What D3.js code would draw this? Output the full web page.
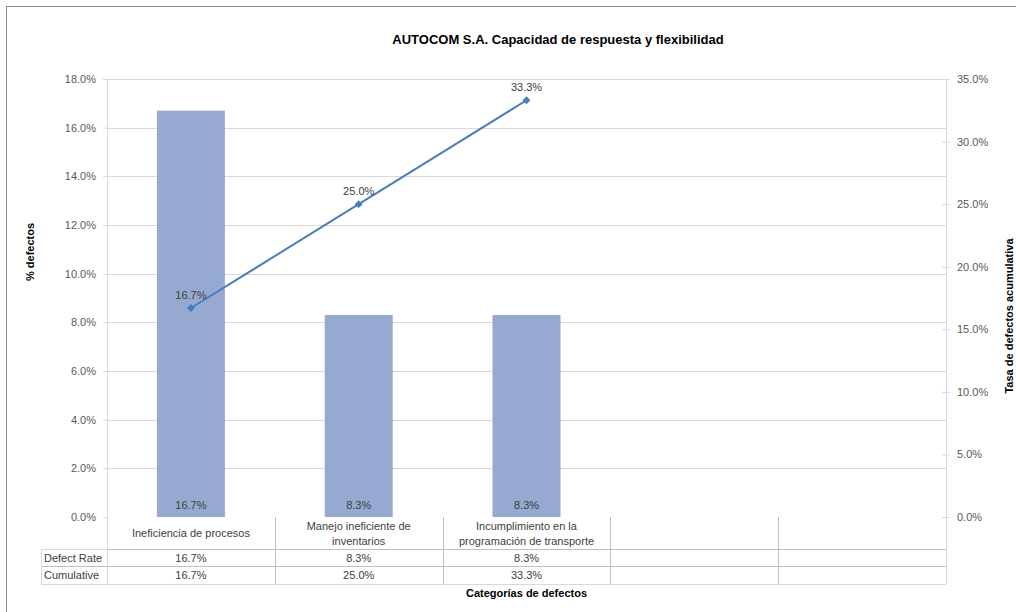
<!DOCTYPE html>
<html>
<head>
<meta charset="utf-8">
<script src="https://cdn.jsdelivr.net/npm/d3@7"></script>
<style>
  body { margin: 0; background: #fff; }
  text { font-family: "Liberation Sans", Arial, sans-serif; }
</style>
</head>
<body>
<div id="container"></div>
<script>
const categories = ["Ineficiencia de procesos", "Manejo ineficiente de inventarios", "Incumplimiento en la programación de transporte", "", ""]
const categoryLines = [["Ineficiencia de procesos"], ["Manejo ineficiente de", "inventarios"], ["Incumplimiento en la", "programación de transporte"], [], []]
const defectRate = [0.167, 0.083, 0.083]
const cumulative = [0.167, 0.25, 0.333]
const defectLabels = ["16.7%", "8.3%", "8.3%"]
const cumulativeLabels = ["16.7%", "25.0%", "33.3%"]
const leftTicks = [0, 0.02, 0.04, 0.06, 0.08, 0.10, 0.12, 0.14, 0.16, 0.18]
const rightTicks = [0, 0.05, 0.10, 0.15, 0.20, 0.25, 0.30, 0.35]

const W = 1016, H = 612
const margin = { left: 107, right: 70, top: 79, bottom: 95 }
const plotBottom = H - margin.bottom
const plotRight = W - margin.right

const svg = d3.select('#container').append('svg')
    .attr('width', W).attr('height', H)

// outer frame
svg.append('rect')
    .attr('x', 6.5).attr('y', 6.5)
    .attr('width', W + 20).attr('height', H + 20)
    .attr('fill', 'none').attr('stroke', '#8c8c8c')

const x = d3.scaleBand().domain(categories.map((c, i) => i)).range([margin.left, plotRight])
const yL = d3.scaleLinear().domain([0, 0.18]).range([plotBottom, margin.top])
const yR = d3.scaleLinear().domain([0, 0.35]).range([plotBottom, margin.top])
const fmt = d3.format('.1%')

// gridlines
svg.append('g').selectAll('line').data(leftTicks.slice(1)).join('line')
    .attr('x1', margin.left).attr('x2', plotRight)
    .attr('y1', d => Math.round(yL(d)) + 0.5).attr('y2', d => Math.round(yL(d)) + 0.5)
    .attr('stroke', '#d9d9d9')

// left axis
const gl = svg.append('g').attr('transform', `translate(${margin.left},0)`)
    .call(d3.axisLeft(yL).tickValues(leftTicks).tickFormat(fmt).tickSize(4).tickPadding(7))
gl.select('.domain').attr('stroke', '#d9d9d9')
gl.selectAll('.tick line').attr('stroke', '#d9d9d9')
gl.selectAll('.tick text').attr('fill', '#595959').style('font-size', '11px')
    .style('font-family', '"Liberation Sans", Arial, sans-serif')

// right axis
const gr = svg.append('g').attr('transform', `translate(${plotRight},0)`)
    .call(d3.axisRight(yR).tickValues(rightTicks).tickFormat(fmt).tickSize(4).tickPadding(7))
gr.select('.domain').attr('stroke', '#d9d9d9')
gr.selectAll('.tick line').attr('stroke', '#d9d9d9').attr('x1', -4)
gr.selectAll('.tick text').attr('fill', '#595959').style('font-size', '11px')
    .style('font-family', '"Liberation Sans", Arial, sans-serif')

// bars
const barW = 68
svg.append('g').selectAll('rect').data(defectRate).join('rect')
    .attr('x', (d, i) => x(i) + x.bandwidth() / 2 - barW / 2)
    .attr('width', barW)
    .attr('y', d => yL(d))
    .attr('height', d => plotBottom - yL(d))
    .attr('fill', '#95a9d1')

svg.append('g').selectAll('text').data(defectLabels).join('text')
    .attr('x', (d, i) => x(i) + x.bandwidth() / 2)
    .attr('y', plotBottom - 8)
    .attr('text-anchor', 'middle')
    .attr('fill', '#404040').style('font-size', '11px')
    .text(d => d)

// cumulative line
const line = d3.line()
    .x((d, i) => x(i) + x.bandwidth() / 2)
    .y(d => yR(d))
svg.append('path').attr('d', line(cumulative))
    .attr('fill', 'none').attr('stroke', '#4a7ebb').attr('stroke-width', 2)

svg.append('g').selectAll('path').data(cumulative).join('path')
    .attr('d', d3.symbol(d3.symbolDiamond2, 40))
    .attr('transform', (d, i) => `translate(${x(i) + x.bandwidth() / 2},${yR(d)})`)
    .attr('fill', '#4a7ebb')

svg.append('g').selectAll('text').data(cumulativeLabels).join('text')
    .attr('x', (d, i) => x(i) + x.bandwidth() / 2)
    .attr('y', (d, i) => yR(cumulative[i]) - 9)
    .attr('text-anchor', 'middle')
    .attr('fill', '#404040').style('font-size', '11px')
    .text(d => d)

// data table
const tableLeft = 41
const rowY = [plotBottom, 549, 566, 584]
const tbl = svg.append('g')
tbl.selectAll('line.h').data(rowY.slice(1)).join('line')
    .attr('x1', (d, i) => tableLeft).attr('x2', plotRight)
    .attr('y1', d => d + 0.5).attr('y2', d => d + 0.5)
    .attr('stroke', (d, i) => i === 2 ? '#d9d9d9' : '#bfbfbf')
tbl.append('line')
    .attr('x1', tableLeft).attr('x2', margin.left)
    .attr('y1', rowY[1] + 0.5).attr('y2', rowY[1] + 0.5)
    .attr('stroke', '#d9d9d9')
tbl.append('line')
    .attr('x1', tableLeft + 0.5).attr('x2', tableLeft + 0.5)
    .attr('y1', rowY[1]).attr('y2', rowY[3])
    .attr('stroke', '#d9d9d9')
const colX = categories.map((c, i) => x(i)).concat([plotRight])
tbl.selectAll('line.v').data(colX).join('line')
    .attr('x1', d => Math.round(d) + 0.5).attr('x2', d => Math.round(d) + 0.5)
    .attr('y1', plotBottom).attr('y2', rowY[3])
    .attr('stroke', (d, i) => i === 0 || i === colX.length - 1 ? '#d9d9d9' : '#bfbfbf')

categoryLines.forEach((lines, i) => {
    const cy = (rowY[0] + rowY[1]) / 2
    const t = tbl.append('text')
        .attr('x', x(i) + x.bandwidth() / 2)
        .attr('text-anchor', 'middle')
        .attr('fill', '#404040').style('font-size', '11px')
    lines.forEach((l, j) => {
        t.append('tspan').attr('x', x(i) + x.bandwidth() / 2)
            .attr('y', cy + 4 + (j - (lines.length - 1) / 2) * 15)
            .text(l)
    })
})

const rows = [["Defect Rate", defectLabels], ["Cumulative", cumulativeLabels]]
rows.forEach(([name, vals], r) => {
    const cy = (rowY[r + 1] + rowY[r + 2]) / 2 + 4
    tbl.append('text').attr('x', tableLeft + 3).attr('y', cy)
        .attr('fill', '#404040').style('font-size', '11px').text(name)
    vals.forEach((v, i) => {
        tbl.append('text').attr('x', x(i) + x.bandwidth() / 2).attr('y', cy)
            .attr('text-anchor', 'middle')
            .attr('fill', '#404040').style('font-size', '11px').text(v)
    })
})

// titles
svg.append('text').attr('x', 558).attr('y', 44)
    .attr('text-anchor', 'middle').attr('font-weight', 'bold')
    .attr('fill', '#000').style('font-size', '13px')
    .text('AUTOCOM S.A. Capacidad de respuesta y flexibilidad')

svg.append('text').attr('x', (margin.left + plotRight) / 2).attr('y', 597)
    .attr('text-anchor', 'middle').attr('font-weight', 'bold')
    .attr('fill', '#000').style('font-size', '11px')
    .text('Categorías de defectos')

svg.append('text')
    .attr('transform', 'translate(34,252) rotate(-90)')
    .attr('text-anchor', 'middle').attr('font-weight', 'bold')
    .attr('fill', '#000').style('font-size', '11px')
    .text('% defectos')

svg.append('text')
    .attr('transform', 'translate(1013,316) rotate(-90)')
    .attr('text-anchor', 'middle').attr('font-weight', 'bold')
    .attr('fill', '#000').style('font-size', '11px')
    .text('Tasa de defectos acumulativa')
</script>
</body>
</html>
